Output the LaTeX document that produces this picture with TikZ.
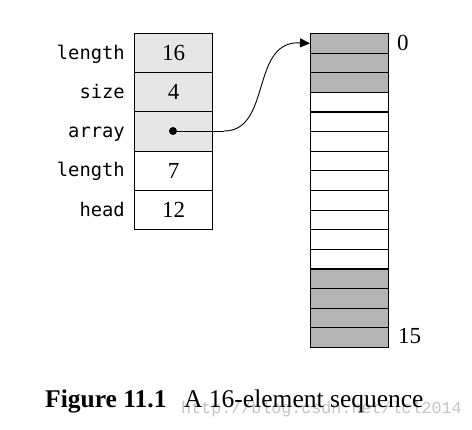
\documentclass[tikz,border=0pt]{standalone}
\usepackage{fontspec}
\setmainfont{Liberation Serif}
\setmonofont{DejaVu Sans Mono}
\newfontfamily\wmfont{Liberation Mono}
\usetikzlibrary{arrows.meta}
\definecolor{lightcell}{HTML}{E6E6E6}
\definecolor{darkcell}{HTML}{B4B4B4}
\definecolor{wmgray}{HTML}{C4C4C4}
\tikzset{
  cellbox/.style={draw=black, line width=1.1pt, minimum width=78pt, minimum height=39.2pt, inner sep=0pt, anchor=north west, font=\fontsize{23}{25}\selectfont},
  arrcell/.style={draw=black, line width=1.1pt, minimum width=78pt, minimum height=19.625pt, inner sep=0pt, anchor=north west},
  fieldlbl/.style={anchor=base east, inner sep=0pt, font=\ttfamily\fontsize{18.8}{20}\selectfont},
  idxlbl/.style={anchor=west, inner sep=0pt, font=\fontsize{23}{25}\selectfont},
  ptr/.style={line width=0.9pt, -{Triangle[length=10pt,width=9pt]}}
}
\begin{document}
\begin{tikzpicture}[x=1pt,y=-1pt]
\useasboundingbox[fill=white] (0,0) rectangle (472,430);
% left record
\node[cellbox, fill=lightcell] (c1) at (134,33) {16};
\node[cellbox, fill=lightcell] (c2) at (134,72.2) {4};
\node[cellbox, fill=lightcell] (c3) at (134,111.4) {};
\node[cellbox] (c4) at (134,150.6) {7};
\node[cellbox] (c5) at (134,189.8) {12};
\node[fieldlbl] (l1) at (125,59.4) {length};
\node[fieldlbl] (l2) at (125,98.6) {size};
\node[fieldlbl] (l3) at (125,137.8) {array};
\node[fieldlbl] (l4) at (125,177) {length};
\node[fieldlbl] (l5) at (125,216.2) {head};
% array
\foreach \i in {0,...,15}{
  \pgfmathsetmacro{\yy}{33+19.625*\i}
  \ifnum\i<3
    \node[arrcell, fill=darkcell] (a\i) at (310,\yy) {};
  \else\ifnum\i>11
    \node[arrcell, fill=darkcell] (a\i) at (310,\yy) {};
  \else
    \node[arrcell, fill=white] (a\i) at (310,\yy) {};
  \fi\fi
}
\node[idxlbl] (i0) at (397,43) {0};
\node[idxlbl] (i15) at (398,336) {15};
% pointer
\fill (173,131) circle (4pt);
\coordinate (dot) at (173,131);
\coordinate (bend) at (224,131);
\coordinate (top) at (298,42.8);
\draw[line width=0.9pt] (dot) -- (bend);
\draw[ptr] (bend) to[out=0,in=180,looseness=1.05] (top) -- (a0.west);
% caption
\node[anchor=base west, inner sep=0pt, text=wmgray, font=\wmfont\fontsize{16.7}{18}\selectfont] (wm) at (181,414) {http://blog.csdn.net/lcl2014};
\node[anchor=base west, inner sep=0pt, font=\bfseries\fontsize{25.5}{28}\selectfont] (fig) at (45,408) {Figure 11.1};
\node[anchor=base west, inner sep=0pt, font=\fontsize{25.5}{28}\selectfont] (cap) at (184,408) {A 16-element sequence};
\end{tikzpicture}
\end{document}
